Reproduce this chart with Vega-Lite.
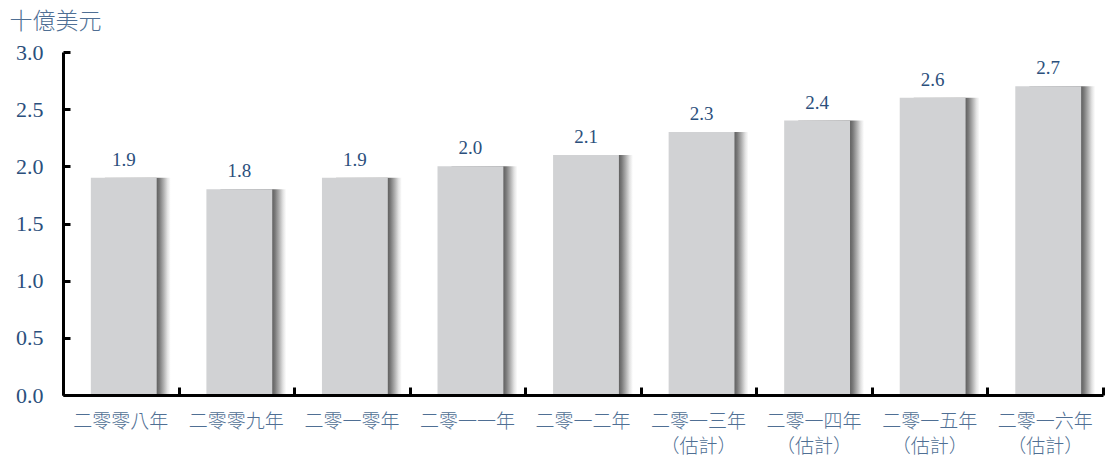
{
  "$schema": "https://vega.github.io/schema/vega-lite/v6.json",
  "width": 1040,
  "height": 343,
  "autosize": "none",
  "padding": {"left": 63, "top": 52, "right": 2, "bottom": 64},
  "background": "white",
  "config": {"view": {"stroke": null}},
  "data": {
    "values": [
      {"year": "二零零八年", "value": 1.9},
      {"year": "二零零九年", "value": 1.8},
      {"year": "二零一零年", "value": 1.9},
      {"year": "二零一一年", "value": 2.0},
      {"year": "二零一二年", "value": 2.1},
      {"year": "二零一三年|（估計）", "value": 2.3},
      {"year": "二零一四年|（估計）", "value": 2.4},
      {"year": "二零一五年|（估計）", "value": 2.6},
      {"year": "二零一六年|（估計）", "value": 2.7}
    ]
  },
  "resolve": {"axis": {"x": "independent", "y": "independent"}},
  "layer": [
    {
      "description": "Inward-pointing tick marks: mirrored axes pulled onto the plot edges",
      "mark": {"type": "bar", "opacity": 0},
      "encoding": {
        "x": {
          "field": "year",
          "type": "nominal",
          "sort": null,
          "scale": {"paddingInner": 0, "paddingOuter": 0},
          "axis": {
            "orient": "top",
            "offset": -343,
            "title": null,
            "labels": false,
            "domain": false,
            "tickBand": "extent",
            "tickSize": 8,
            "tickWidth": 3,
            "tickColor": "black",
            "zindex": 2
          }
        },
        "y": {
          "field": "value",
          "type": "quantitative",
          "scale": {"domain": [0, 3], "nice": false},
          "axis": {
            "orient": "right",
            "offset": -1040,
            "values": [0, 0.5, 1, 1.5, 2, 2.5, 3],
            "title": null,
            "labels": false,
            "domain": false,
            "grid": false,
            "tickSize": 7,
            "tickWidth": 3,
            "tickColor": "black",
            "zindex": 2
          }
        }
      }
    },
    {
      "encoding": {
        "x": {
          "field": "year",
          "type": "nominal",
          "sort": null,
          "scale": {"paddingInner": 0, "paddingOuter": 0},
          "axis": {
            "title": null,
            "labelAngle": 0,
            "labelExpr": "split(datum.label, '|')",
            "labelFont": "Noto Sans CJK TC",
            "labelFontWeight": 300,
            "labelFontSize": 19,
            "labelColor": "#4f6f94",
            "labelLineHeight": 25,
            "labelPadding": 17,
            "ticks": false,
            "domainColor": "black",
            "domainWidth": 3,
            "zindex": 1
          }
        },
        "y": {
          "field": "value",
          "type": "quantitative",
          "scale": {"domain": [0, 3], "nice": false},
          "axis": {
            "values": [0, 0.5, 1, 1.5, 2, 2.5, 3],
            "format": ".1f",
            "grid": false,
            "title": "十億美元",
            "titleAngle": 0,
            "titleAlign": "left",
            "titleBaseline": "alphabetic",
            "titleX": -54,
            "titleY": -24,
            "titleFont": "Noto Sans CJK TC",
            "titleFontSize": 23,
            "titleFontWeight": 300,
            "titleColor": "#4f6f94",
            "labelFont": "Liberation Serif",
            "labelFontSize": 22,
            "labelColor": "#2b4f7c",
            "labelPadding": 20,
            "ticks": false,
            "domainColor": "black",
            "domainWidth": 3,
            "zindex": 1
          }
        }
      },
      "layer": [
        {
          "mark": {
            "type": "bar",
            "width": {"band": 0.57},
            "xOffset": 17,
            "color": {
              "gradient": "linear",
              "x1": 0, "x2": 1, "y1": 0, "y2": 0,
              "stops": [
                {"offset": 0, "color": "#aaaaaa"},
                {"offset": 0.78, "color": "#5c5c5c"},
                {"offset": 0.83, "color": "#7a7a7a"},
                {"offset": 0.89, "color": "#adadad"},
                {"offset": 0.95, "color": "#e2e2e2"},
                {"offset": 1, "color": "#ffffff"}
              ]
            }
          }
        },
        {
          "mark": {
            "type": "bar",
            "width": {"band": 0.57},
            "xOffset": 3,
            "color": "#d1d2d4"
          }
        },
        {
          "mark": {
            "type": "text",
            "dy": -18,
            "dx": 3,
            "font": "Liberation Serif",
            "fontSize": 19,
            "color": "#2b4f7c"
          },
          "encoding": {
            "text": {"field": "value", "type": "quantitative", "format": ".1f"}
          }
        }
      ]
    }
  ]
}
